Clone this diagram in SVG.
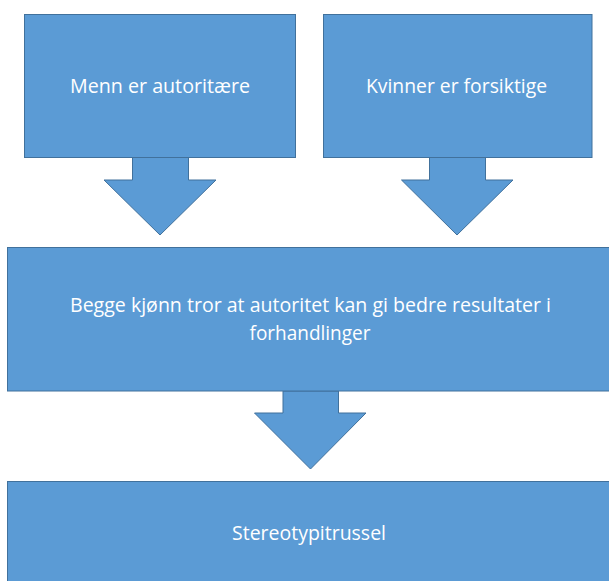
<svg xmlns="http://www.w3.org/2000/svg" width="609" height="581" viewBox="0 0 609 581">
  <style>
    .box { fill: #5B9BD5; stroke: #41719C; stroke-width: 1; }
    .arrow { fill: #5B9BD5; stroke: #41719C; stroke-width: 1; stroke-linejoin: miter; }
    .lbl { font-family: "Open Sans", "Noto Sans", "Liberation Sans", sans-serif; font-size: 20px; fill: #FFFFFF; text-anchor: middle; }
  </style>
  <rect width="609" height="581" fill="#FFFFFF"/>
  <g id="connectors">
    <polygon class="arrow" points="132.5,157.5 188.5,157.5 188.5,180 216,180 160,235 104,180 132.5,180"/>
    <polygon class="arrow" points="429.5,157.5 485.5,157.5 485.5,180 513,180 457,235 401.5,180 429.5,180"/>
    <polygon class="arrow" points="283,391 338.5,391 338.5,413 366,413 310.5,469 254.5,413 283,413"/>
  </g>
  <g id="node-menn">
    <rect class="box" x="24.5" y="14.5" width="271" height="143"/>
    <text class="lbl" x="160" y="92.5" textLength="180" lengthAdjust="spacingAndGlyphs">Menn er autoritære</text>
  </g>
  <g id="node-kvinner">
    <rect class="box" x="323.5" y="14.5" width="268.5" height="143"/>
    <text class="lbl" x="456.5" y="92.5" textLength="181" lengthAdjust="spacingAndGlyphs">Kvinner er forsiktige</text>
  </g>
  <g id="node-begge">
    <rect class="box" x="7.5" y="247.5" width="605" height="143.5"/>
    <text class="lbl" x="310.5" y="312" textLength="481" lengthAdjust="spacingAndGlyphs">Begge kjønn tror at autoritet kan gi bedre resultater i</text>
    <text class="lbl" x="310" y="340" textLength="121" lengthAdjust="spacingAndGlyphs">forhandlinger</text>
  </g>
  <g id="node-stereotypi">
    <rect class="box" x="7.5" y="481.5" width="605" height="104"/>
    <text class="lbl" x="309" y="540" textLength="154" lengthAdjust="spacingAndGlyphs">Stereotypitrussel</text>
  </g>
</svg>
